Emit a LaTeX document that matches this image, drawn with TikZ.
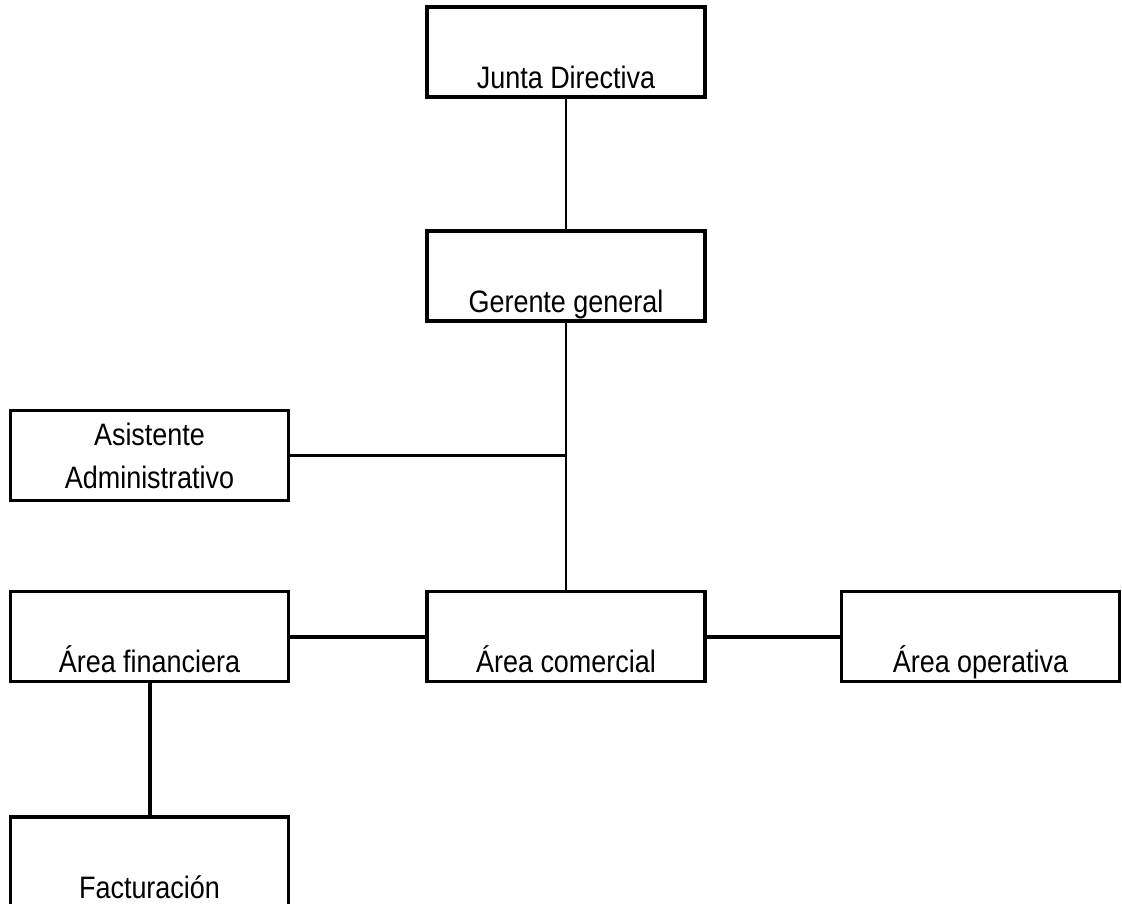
\documentclass[tikz,border=0pt]{standalone}
\usepackage{fontspec}
\setmainfont{Liberation Sans}[FakeStretch=0.87]
\begin{document}
\begin{tikzpicture}[x=1pt,y=-1pt,
  orgbox/.style={draw, line width=3.5pt, minimum width=278pt, inner sep=0pt,
    text height=81pt, text depth=9pt, font=\fontsize{31}{43}\selectfont},
  orgbox2/.style={draw, line width=3.5pt, minimum width=278pt, minimum height=90pt,
    inner sep=0pt, align=center, font=\fontsize{31}{43}\selectfont},
  thin link/.style={line width=2.5pt},
  thick link/.style={line width=4pt}]
\useasboundingbox (0,0) rectangle (1122,903);
\begin{scope}
\clip (0,0) rectangle (1122,903);
\node[orgbox] (junta) at (566,52) {Junta Directiva};
\node[orgbox] (gerente) at (566,276) {Gerente general};
\node[orgbox2] (asist) at (149.5,455.5) {Asistente\\Administrativo};
\node[orgbox] (fin) at (149.5,636.5) {Área financiera};
\node[orgbox] (com) at (566,636.5) {Área comercial};
\node[orgbox] (oper) at (980.5,636.5) {Área operativa};
\node[orgbox] (fact) at (149.5,862) {Facturación};
\coordinate (jn) at (566,455.5);
\draw[thin link] (junta.south) -- (gerente.north);
\draw[thin link] (gerente.south) -- (com.north);
\draw[line width=3pt] (asist.east) -- (jn);
\draw[thick link] (fin.east) -- (com.west);
\draw[thick link] (com.east) -- (oper.west);
\draw[thick link] (fin.south) -- (fact.north);
\end{scope}
\end{tikzpicture}
\end{document}
